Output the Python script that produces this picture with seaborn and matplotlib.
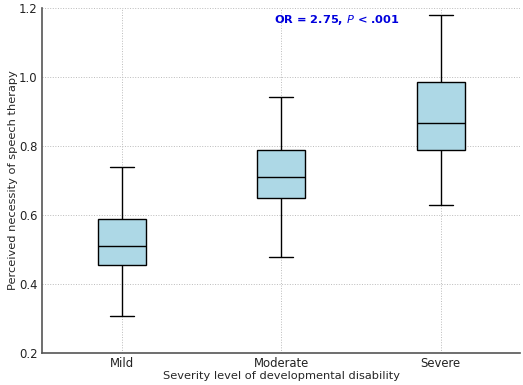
import pandas as pd
import numpy as np
import matplotlib
matplotlib.use('Agg')
import matplotlib.pyplot as plt
import seaborn as sns

# Five-number summaries (low whisker, Q1, median, Q3, high whisker)
categories = ['Mild', 'Moderate', 'Severe']
mild = [0.308, 0.456, 0.510, 0.589, 0.740]
moderate = [0.479, 0.650, 0.710, 0.789, 0.940]
severe = [0.630, 0.789, 0.865, 0.984, 1.180]
y_ticks = [0.2, 0.4, 0.6, 0.8, 1.0, 1.2]
annotation = r'OR = 2.75, $\mathit{P}$ < .001'

df = pd.DataFrame({
    'severity': np.repeat(categories, 5),
    'necessity': mild + moderate + severe,
})

sns.set_style('whitegrid')
plt.rcParams['font.family'] = ['DejaVu Sans']

fig, ax = plt.subplots(figsize=(5.23, 3.85), dpi=100)
sns.boxplot(data=df, x='severity', y='necessity', order=categories,
            color='#ADD8E6', width=0.3, whis=(0, 100), linewidth=1,
            linecolor='black', saturation=1, ax=ax)

ax.set_ylim(0.2, 1.2)
ax.set_yticks(y_ticks)
ax.set_xlim(-0.5, 2.5)
ax.set_xlabel('Severity level of developmental disability', fontsize=8.2, labelpad=0.5)
ax.set_ylabel('Perceived necessity of speech therapy', fontsize=8.2, labelpad=1)
ax.tick_params(axis='both', labelsize=8.4, length=0, pad=3, labelcolor='#222222')
ax.grid(True, linestyle=':', color='#bbbbbb', linewidth=0.7)
ax.set_axisbelow(True)
for side in ['top', 'right']:
    ax.spines[side].set_visible(False)
for side in ['left', 'bottom']:
    ax.spines[side].set_color('#555555')
    ax.spines[side].set_linewidth(1.2)

ax.text(1.35, 1.165, annotation, color='#0000dd', fontsize=8.2,
        fontweight='bold', ha='center', va='center')

plt.subplots_adjust(left=0.08, right=0.995, top=0.98, bottom=0.083)
fig.savefig('out.png', dpi=100)
